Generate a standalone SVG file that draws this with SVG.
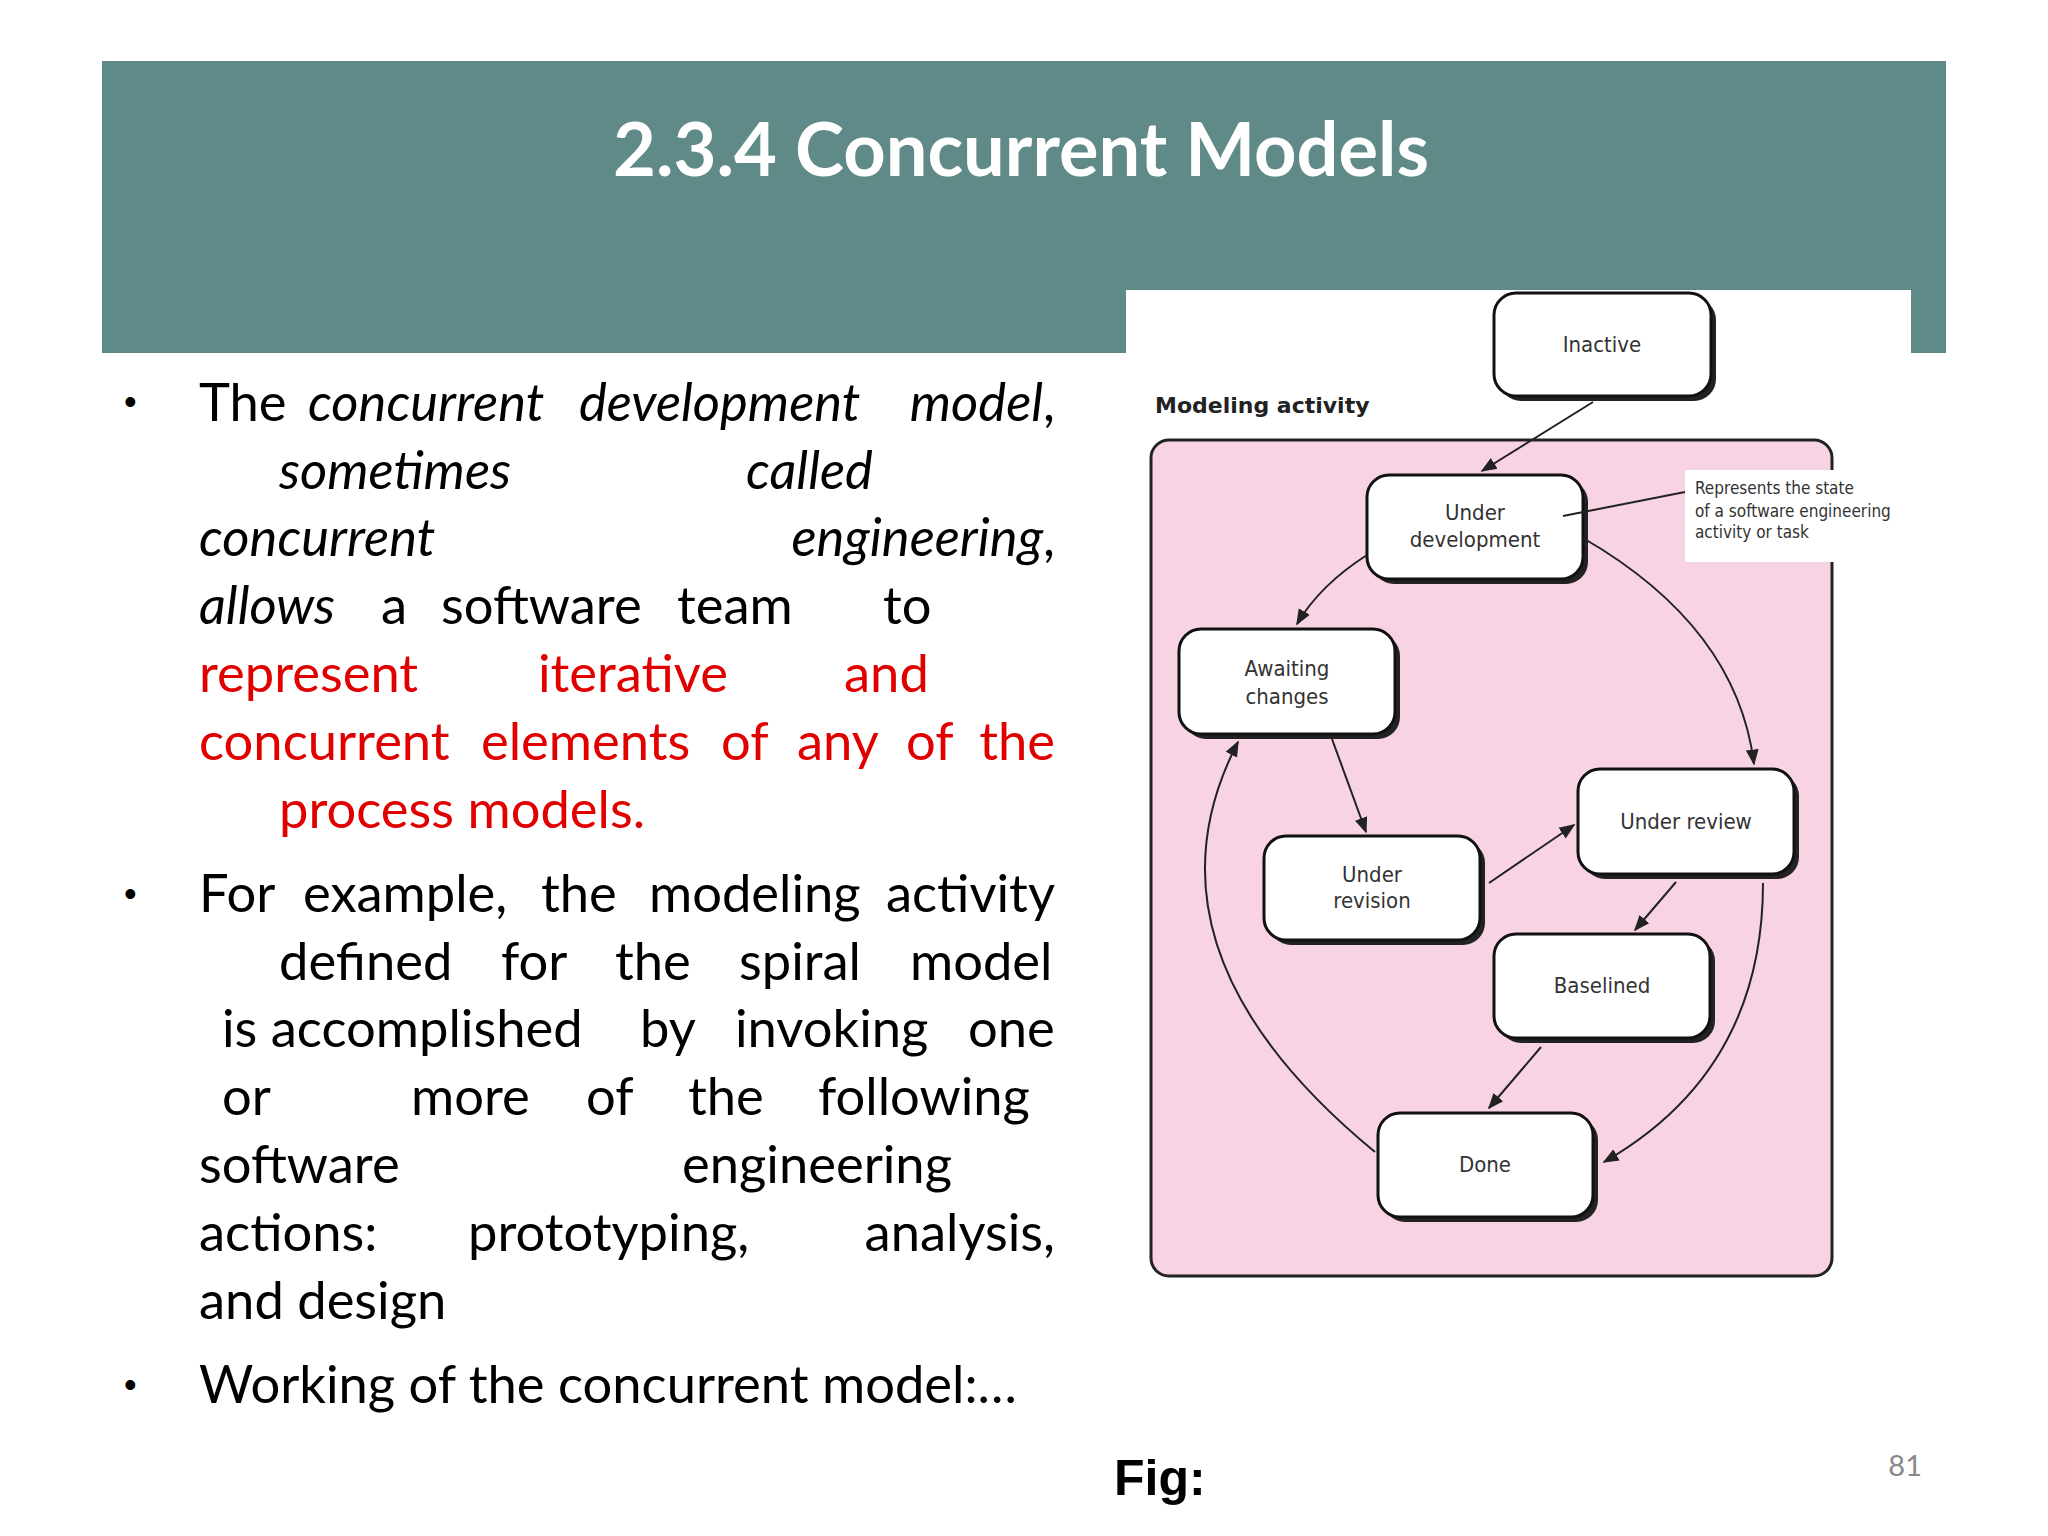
<svg xmlns="http://www.w3.org/2000/svg" width="2048" height="1536" viewBox="0 0 2048 1536">
<defs>
<style>
.b{font-family:Lato,"Open Sans",sans-serif;font-size:52.5px;fill:#000}
.i{font-style:italic}
.r{fill:#e00000}
.bul{font-family:"Liberation Sans",sans-serif;font-size:36px;fill:#000}
.n{font-family:"DejaVu Sans Condensed","DejaVu Sans",sans-serif;font-stretch:condensed;font-size:22px;fill:#333;text-anchor:middle}
.box{fill:#fff;stroke:#111;stroke-width:3}
.sh{fill:#222}
.c{fill:none;stroke:#222;stroke-width:2;marker-end:url(#a)}
</style>
<marker id="a" viewBox="0 0 10 10" refX="9" refY="5" markerWidth="8" markerHeight="8" orient="auto"><path d="M0,1 L10,5 L0,9 z" fill="#222"/></marker>
</defs>
<rect width="2048" height="1536" fill="#fff"/>
<rect x="102" y="61" width="1844" height="292" fill="#5f8a87"/>
<text x="1021" y="176" text-anchor="middle" style="font-family:Lato,sans-serif;font-weight:bold;font-size:74px;fill:#fff">2.3.4 Concurrent Models</text>
<rect x="1126" y="290" width="785" height="80" fill="#fff"/>

<g id="text">
<text class="bul" x="124" y="414">•</text>
<text class="bul" x="124" y="906">•</text>
<text class="bul" x="124" y="1397">•</text>
<text class="b" x="199" y="421">The</text>
<text class="b i" x="308" y="421">concurrent</text>
<text class="b i" x="579" y="421">development</text>
<text class="b" x="1055" y="421" text-anchor="end"><tspan class="i">model</tspan>,</text>
<text class="b i" x="279" y="489">sometimes</text>
<text class="b i" x="746" y="489">called</text>
<text class="b i" x="199" y="556">concurrent</text>
<text class="b" x="1055" y="556" text-anchor="end"><tspan class="i">engineering</tspan>,</text>
<text class="b i" x="199" y="624">allows</text>
<text class="b" x="381" y="624">a</text>
<text class="b" x="441" y="624">software</text>
<text class="b" x="677" y="624">team</text>
<text class="b" x="883" y="624">to</text>
<text class="b r" x="199" y="692">represent</text>
<text class="b r" x="538" y="692">iterative</text>
<text class="b r" x="844" y="692">and</text>
<text class="b r" x="199" y="760">concurrent</text>
<text class="b r" x="481" y="760">elements</text>
<text class="b r" x="721" y="760">of</text>
<text class="b r" x="797" y="760">any</text>
<text class="b r" x="906" y="760">of</text>
<text class="b r" x="1055" y="760" text-anchor="end">the</text>
<text class="b r" x="279" y="828">process models.</text>
<text class="b" x="199" y="912">For</text>
<text class="b" x="303" y="912">example,</text>
<text class="b" x="541" y="912">the</text>
<text class="b" x="649" y="912">modeling</text>
<text class="b" x="1055" y="912" text-anchor="end">activity</text>
<text class="b" x="279" y="980">defined</text>
<text class="b" x="501" y="980">for</text>
<text class="b" x="615" y="980">the</text>
<text class="b" x="739" y="980">spiral</text>
<text class="b" x="910" y="980">model</text>
<text class="b" x="222" y="1047">is accomplished</text>
<text class="b" x="640" y="1047">by</text>
<text class="b" x="735" y="1047">invoking</text>
<text class="b" x="968" y="1047">one</text>
<text class="b" x="222" y="1115">or</text>
<text class="b" x="411" y="1115">more</text>
<text class="b" x="586" y="1115">of</text>
<text class="b" x="688" y="1115">the</text>
<text class="b" x="818" y="1115">following</text>
<text class="b" x="199" y="1183">software</text>
<text class="b" x="682" y="1183">engineering</text>
<text class="b" x="199" y="1251">actions:</text>
<text class="b" x="468" y="1251">prototyping,</text>
<text class="b" x="1055" y="1251" text-anchor="end">analysis,</text>
<text class="b" x="199" y="1319">and design</text>
<text class="b" x="199" y="1403">Working of the concurrent model:…</text>
<text x="1114" y="1495" style="font-family:'Liberation Sans',sans-serif;font-weight:bold;font-size:50px">Fig:</text>
<text x="1922" y="1476" text-anchor="end" style="font-family:Lato,sans-serif;font-size:29px;fill:#888">81</text>
</g>

<g id="activity">
<rect x="1151" y="440" width="681" height="836" rx="18" fill="#f8d3e4" stroke="#222" stroke-width="3"/>
<text x="1155" y="413" style="font-family:'DejaVu Sans',sans-serif;font-weight:bold;font-size:22px;fill:#222">Modeling activity</text>
<rect x="1685" y="470" width="153" height="92" fill="#fff"/>
<text style="font-family:'DejaVu Sans Condensed','DejaVu Sans',sans-serif;font-stretch:condensed;font-size:17px;fill:#333"><tspan x="1695" y="494">Represents the state</tspan><tspan x="1695" y="517">of a software engineering</tspan><tspan x="1695" y="538">activity or task</tspan></text>
</g>

<g id="n-inactive"><rect class="sh" x="1499" y="298" width="217" height="103" rx="22"/><rect class="box" x="1494" y="293" width="217" height="103" rx="22"/><text class="n" x="1602" y="352">Inactive</text></g>
<g id="n-underdev"><rect class="sh" x="1372" y="480" width="216" height="104" rx="22"/><rect class="box" x="1367" y="475" width="216" height="104" rx="22"/><text class="n" x="1475" y="520">Under</text><text class="n" x="1475" y="547">development</text></g>
<g id="n-awaiting"><rect class="sh" x="1184" y="634" width="216" height="105" rx="22"/><rect class="box" x="1179" y="629" width="216" height="105" rx="22"/><text class="n" x="1287" y="676">Awaiting</text><text class="n" x="1287" y="704">changes</text></g>
<g id="n-revision"><rect class="sh" x="1269" y="841" width="216" height="104" rx="22"/><rect class="box" x="1264" y="836" width="216" height="104" rx="22"/><text class="n" x="1372" y="882">Under</text><text class="n" x="1372" y="908">revision</text></g>
<g id="n-review"><rect class="sh" x="1583" y="774" width="216" height="105" rx="22"/><rect class="box" x="1578" y="769" width="216" height="105" rx="22"/><text class="n" x="1686" y="829">Under review</text></g>
<g id="n-baselined"><rect class="sh" x="1499" y="939" width="216" height="104" rx="22"/><rect class="box" x="1494" y="934" width="216" height="104" rx="22"/><text class="n" x="1602" y="993">Baselined</text></g>
<g id="n-done"><rect class="sh" x="1383" y="1118" width="215" height="104" rx="22"/><rect class="box" x="1378" y="1113" width="215" height="104" rx="22"/><text class="n" x="1485" y="1172">Done</text></g>

<g id="connectors">
<line x1="1685" y1="492" x2="1563" y2="516" stroke="#222" stroke-width="2"/>
<path class="c" d="M1593,402 L1482,471"/>
<path class="c" d="M1367,555 Q1320,585 1297,624"/>
<path class="c" d="M1332,739 L1366,832"/>
<path class="c" d="M1489,883 L1574,825"/>
<path class="c" d="M1583,538 Q1737,627 1754,764"/>
<path class="c" d="M1676,882 L1635,930"/>
<path class="c" d="M1541,1047 L1489,1108"/>
<path class="c" d="M1763,883 Q1763,1071 1604,1162"/>
<path class="c" d="M1375,1152 Q1130,950 1238,742"/>
</g>
</svg>
